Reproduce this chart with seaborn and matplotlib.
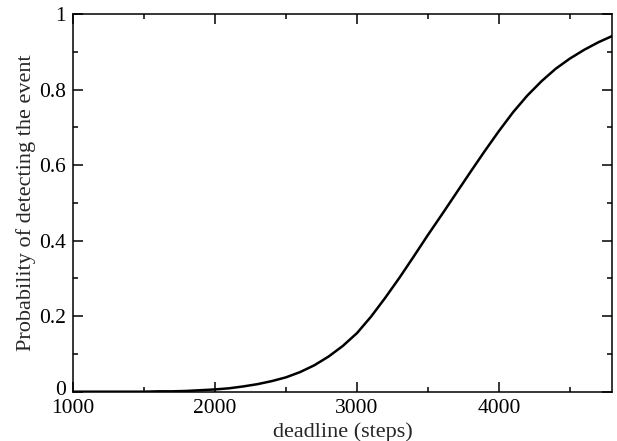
import matplotlib
matplotlib.use("Agg")
import matplotlib.pyplot as plt
from matplotlib.ticker import MultipleLocator, FuncFormatter
from matplotlib.transforms import ScaledTranslation
import seaborn as sns
import pandas as pd

# deadline in simulation steps and the detection probability reached by then
deadline = [1000, 1100, 1200, 1300, 1400, 1500, 1600, 1700, 1800, 1900,
            2000, 2100, 2200, 2300, 2400, 2500, 2600, 2700, 2800, 2900,
            3000, 3100, 3200, 3300, 3400, 3500, 3600, 3700, 3800, 3900,
            4000, 4100, 4200, 4300, 4400, 4500, 4600, 4700, 4800]
probability = [0.000, 0.000, 0.000, 0.000, 0.000, 0.000, 0.001, 0.001, 0.002, 0.004,
               0.006, 0.009, 0.014, 0.020, 0.028, 0.038, 0.052, 0.070, 0.093, 0.121,
               0.155, 0.199, 0.249, 0.302, 0.358, 0.415, 0.470, 0.526, 0.582, 0.637,
               0.690, 0.740, 0.784, 0.822, 0.855, 0.882, 0.905, 0.925, 0.942]

x_ticks = [1000, 2000, 3000, 4000]
y_ticks = [0, 0.2, 0.4, 0.6, 0.8, 1]

df = pd.DataFrame({"deadline": deadline, "probability": probability})

sns.set_theme(style="ticks")
plt.rcParams["font.family"] = ["Liberation Serif", "DejaVu Serif"]
plt.rcParams["axes.linewidth"] = 1.1

fig = plt.figure(figsize=(6.17, 4.41), dpi=100)
ax = fig.add_axes([0.1183, 0.1118, 0.8744, 0.8565])

sns.lineplot(data=df, x="deadline", y="probability", ax=ax,
             color="black", linewidth=1.8)

ax.set_xlim(1000, 4800)
ax.set_ylim(0, 1)
ax.set_xticks(x_ticks)
ax.set_yticks(y_ticks)
ax.xaxis.set_minor_locator(MultipleLocator(500))
ax.yaxis.set_minor_locator(MultipleLocator(0.1))
ax.yaxis.set_major_formatter(FuncFormatter(lambda v, p: f"{v:g}"))

ax.tick_params(which="both", direction="in", top=True, right=True,
               width=1.1, colors="black", labelsize=15.5)
ax.tick_params(which="major", length=7.2)
ax.tick_params(which="minor", length=3.6)
ax.tick_params(axis="x", which="both", pad=5)
ax.tick_params(axis="y", which="both", pad=5)

ax.set_xlabel("deadline (steps)", fontsize=16, labelpad=3)
ax.set_ylabel("Probability of detecting the event", fontsize=16, labelpad=2)

for s in ax.spines.values():
    s.set_color("black")

# lift the "0" on the y axis a little so it clears the "1000" below it
zero_label = ax.yaxis.get_major_ticks()[0].label1
zero_label.set_transform(zero_label.get_transform()
                         + ScaledTranslation(0, 3 / 72, fig.dpi_scale_trans))

fig.savefig("out.png", dpi=100)
